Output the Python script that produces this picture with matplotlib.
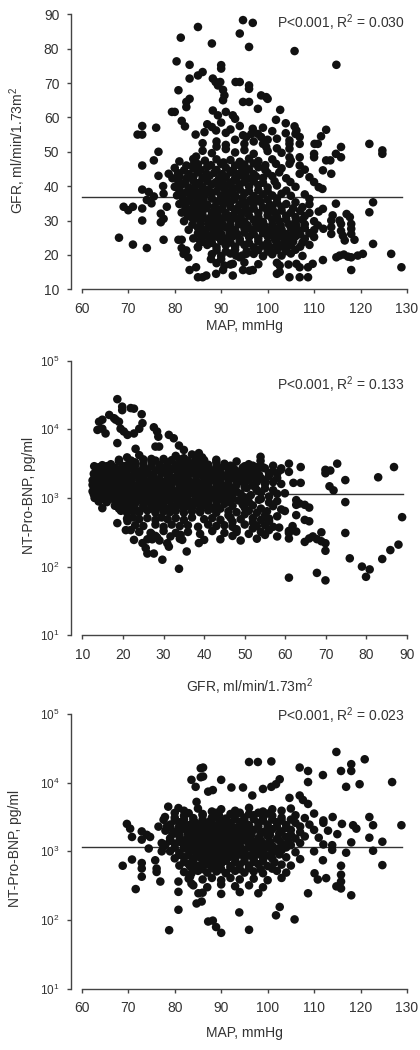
import matplotlib
matplotlib.use('Agg')
import matplotlib.pyplot as plt
from matplotlib.ticker import NullLocator

plt.rcParams['font.family'] = ['Liberation Sans', 'DejaVu Sans']
plt.rcParams['mathtext.fontset'] = 'custom'
plt.rcParams['mathtext.rm'] = 'Liberation Sans'
plt.rcParams['mathtext.it'] = 'Liberation Sans:italic'
plt.rcParams['mathtext.bf'] = 'Liberation Sans:bold'

TXT = '#333333'
DOT = '#111111'

# ---------- panel 1 : MAP (mmHg) vs GFR ----------
map_gfr_outer = [
    (68,25),(69,34),(70,33),(71,34),(71,23),(72,55),(73,55),(73,57.5),(73,46),(73,39),(73,33.5),(73,30),
    (74,22),(74.4,38.3),(74,36),(75,35),(75.5,37),(76,57),(75.5,47.5),(76.5,50),(76.5,43),(77,32),(77,29.5),
    (77.6,30.5),(77.5,40),(77.6,24.4),(77.6,37.8),(78.3,34),(78.7,43.6),(79.4,61.6),(80,61.6),(80.4,76.3),
    (80.8,67.9),(80.8,24.4),(81.5,24.4),(81.3,83.2),(81.5,59),(81.5,22),(81.9,20.3),(82.2,57.4),(82.5,64.5),
    (82.5,63),(83.2,65.4),(83.2,75.3),(83.2,71.3),(82.5,21.3),(82.9,19.3),(83.2,15.6),(83.6,31),(83.9,46),
    (84.5,55),(85,86.3),(85,72.2),(86,73.2),(85,13.5),(86,13.5),(84.6,16.4),(85,22.2),(85.4,24.2),(84.6,48.6),
    (94.7,88.3),(96.8,87.5),(94,84.4),(88,81.5),(96,80.5),(105.8,79.3),(114.8,75.3),(90,75.2),(90,74.2),
    (88.2,71.3),(88.8,70.3),(89.3,69.3),(89.8,70.3),(93.1,70.3),(94,70.3),(96,69.3),(96,68.3),(90.4,68),
    (90.7,66.4),(98.6,66.4),(99.7,65.9),(100,65.4),(94.7,64.5),(96,64.5),(90.4,65),(97.9,62.5),(102.7,62.2),
    (88.2,62),(89.3,60.6),(91,61.6),(92.5,60.6),(93,59.6),(101.8,59.3),(88,57.2),(88.9,56.2),(86.4,55.7),
    (103.9,58.3),(105.8,57.4),(106.2,56.2),(106,55.2),(112.6,56.4),(111.5,54.5),(110.8,52.3),(110.1,52.3),
    (96.8,56.7),(96.5,55.2),(95.4,54.3),(94.7,54.8),(97.9,55.2),(98.6,54.3),(99,52.3),(99.7,51.4),(103.9,55.4),
    (102,53.8),(104.7,53.3),(104.7,52.3),(104.7,50.9),(106.9,54.3),(106.9,52.3),(115.8,51.4),(114.7,49.4),
    (115.8,48.4),(121.9,52.3),(124.7,50.4),(124.7,49.4),(110,49.4),(110,48.4),(112.6,47.5),(113.5,47.5),
    (111.9,44.6),(113.7,43.6),(106.9,48.4),(106.9,46),(106.9,43.6),(104.7,48.4),(104.7,46.5),(101.8,46.5),
    (104.9,41.2),(109,42.6),(110,41.2),(111,39.7),(111.8,39.2),(122.7,35.3),(121.9,32.4),(122.7,23.2),
    (126.6,20.3),(128.8,16.4),(120.5,20.3),(119.4,19.8),(118,19.3),(117.3,19.5),(114.8,19.3),(115.5,19.8),
    (116.4,20.1),(118,15.6),(116.6,24.2),(118.7,24.4),(117,31.9),(117.7,31),(118,29),(118,27.6),(118,26.1),
    (115.5,30),(115.8,29),(115.8,27),(116.2,25.6),(114.7,34.9),(114,31.5),(113.7,30),(113.7,28.1),(113.7,26.1),
    (111.9,33.4),(109,36.3),(104.7,13.5),(106.9,13.5),(108.7,13.5),(102.6,16.9),(102.6,15),(102,14.5),
    (106.2,17.4),(106.9,16.4),(109.7,17.4),(108.7,16.4),(111.9,18.5),(86.8,14),(88.9,14.5),(90.4,15.6),
    (92.5,14),(94.7,15.6),(96.1,15.4),(96.8,15.6),(87.8,18.8),(90,18.8),(90.7,16.9),(92.5,17.4),(93.2,19.8),
    (94,19.3),(95.4,20.3),
    (86,52.5),(89,53),(91,52),(93,53.5),(95,52.3),(97,53),(100,53.5),(87,58),(90,58.5),(92,56.5),(94,57.5),
    (99,57),(101,56),(102,51),(91,55.5),(89,51.5),
]
map_gfr_core = [
    (86,50.3),(88,49.6),(91,50.8),(93,49.8),(95,50.5),(97,49.4),(100,50.2),(103,49.7),
    (81,47.2),(84,47.9),(86.5,47.4),(89,47.8),(90.5,46.9),(92,47.6),(94,47.1),(96,48),(98,47.3),(101,47.8),(105,47.4),
    (82.5,46),(85,46.4),(87.8,46.1),(90,46.5),(93,46),(95,46.3),(97,46.6),(99.5,46.1),
    (80,45.3),(82,44.6),(84,45.2),(85.5,44.8),(87,45.6),(89,44.7),(91,45.4),(92.5,44.6),(94.5,45.3),(96,44.9),
    (98,45.5),(99.5,44.7),(103,45.2),(108,44.8),
    (80.7,43.8),(83,43.5),(85,44),(86.8,43.6),(88.5,43.9),(90.2,43.5),(92,44),(93.8,43.6),(95.2,43.9),(97,43.5),
    (100,43.8),(102.5,44),
    (79.5,42.3),(81,42.9),(82.5,42.2),(84,42.8),(86,42.4),(87.5,43),(89.5,42.1),(91,42.7),(93,42.3),(94.5,43.1),
    (96,42.2),(97.5,42.8),(99,42.4),(101,42.9),(104,42.3),
    (80.8,41.3),(82.2,41),(84,41.5),(85.3,41),(87,41.4),(88.8,41.1),(90.3,41.5),(92,41.1),(93.3,41.6),(95,41.2),
    (97,41.4),(99,41),(101.5,41.4),
    (80,39.8),(81.5,40.4),(83,39.6),(84.5,40.3),(86,39.7),(88,40.5),(89.5,39.8),(91,40.2),(92.5,39.5),(94,40.4),
    (96,39.9),(98,40.3),(100,39.6),(102,40.2),(106,39.8),
    (81,38.8),(82.8,38.5),(84.2,39),(85.8,38.6),(87.3,39),(89,38.5),(90.8,38.9),(92.3,38.6),(94,39),(96,38.5),
    (98,38.8),(100,38.5),(104,38.7),
    (80.5,37.3),(82,37.9),(83.5,37.2),(85,37.8),(86.5,37.4),(88,38),(90,37.2),(91.5,37.7),(93,37.3),(95,37.9),
    (97,37.1),(99,37.6),(101,37.3),(103,37.8),(105,37.2),(108,37.6),
    (81.8,36.3),(83.2,36),(84.8,36.5),(86.2,36.1),(88,36.4),(89.8,36),(91,36.4),(92.8,36.1),(94.5,36.5),(96.3,36),
    (98,36.3),(100,36.1),(102,36.4),
    (81,34.8),(82.5,35.4),(84,34.7),(85.5,35.2),(87,34.6),(89,35.3),(90.5,34.8),(92,35.5),(94,34.7),(95.5,35.2),
    (97,34.9),(98.5,35.4),(100.5,34.6),(102,35.2),(104,34.8),(106,35.3),(109,34.7),
    (82.3,33.8),(83.8,33.5),(85.2,34),(86.8,33.6),(88.5,33.9),(90.2,33.5),(92,34),(93.5,33.6),(95.2,34),(97,33.5),
    (99,33.8),(101,33.6),(103,34),(105.5,33.6),(107.5,33.9),
    (81.5,32.3),(83,32.9),(84.5,32.2),(86,32.8),(88,32.4),(89.5,33),(91,32.2),(93,32.7),(94.5,32.3),(96,32.9),
    (98,32.2),(100,32.8),(101.5,32.4),(103,32.9),(105,32.3),(107,32.8),(109,32.2),(111,32.6),
    (82.8,31.3),(84.5,31),(86,31.5),(87.8,31.1),(89.3,31.4),(91,31),(92.5,31.5),(94.2,31.1),(96,31.4),(98,31),
    (100,31.5),(102,31.1),(104,31.4),(106,31),(108,31.3),
    (82,29.8),(84,30.4),(85.5,29.7),(87,30.3),(88.5,29.6),(90,30.2),(92,29.8),(93.5,30.4),(95,29.7),(97,30.2),
    (99,29.6),(101,30.3),(102.5,29.8),(104,30.4),(106,29.7),(107.5,30.2),(110,29.8),
    (83.8,28.8),(85.5,28.5),(87.2,29),(88.8,28.6),(90.3,29),(92,28.5),(93.8,28.9),(95.7,28.6),(97.5,29),(99.3,28.5),
    (101,28.8),(102.8,28.6),(104.5,29),(106.2,28.5),(108,28.9),(110.8,28.6),
    (83,27.3),(85,27.9),(86.5,27.2),(88,27.8),(89.5,27.4),(91,28),(93,27.2),(95,27.7),(96.5,27.3),(98,27.9),
    (100,27.2),(101.5,27.8),(103,27.4),(105,27.9),(106.5,27.3),(108,27.8),(110,27.2),(112,27.6),
    (85,26.3),(86.8,26),(88.3,26.5),(90,26.1),(91.8,26.4),(93.5,26),(95,26.5),(97,26.1),(99,26.4),(100.8,26),
    (102.3,26.5),(104,26.1),(105.5,26.4),(107,26),(109,26.3),
    (84,24.8),(86,25.4),(87.5,24.7),(89,25.3),(91,24.8),(92.5,25.4),(94,24.6),(96,25.2),(98,24.8),(100,25.4),
    (101.5,24.7),(103,25.3),(104.5,24.8),(106,25.4),(108,24.7),(110,25.2),
    (86,23.8),(88,23.5),(90,24),(92,23.6),(94,23.9),(96,23.5),(98,23.9),(100,23.6),(101.8,24),(103.5,23.5),
    (105.5,23.9),(107.5,23.6),
    (85,22.3),(87,22.9),(89,22.2),(91,22.8),(93,22.4),(95,22.9),(97,22.2),(99,22.7),(100.5,22.3),(102,22.9),
    (103.5,22.2),(105,22.8),(107,22.4),(109,22.9),
    (89,21.3),(91,21),(93,21.5),(95.5,21.1),(98,21.4),(100,21),(102,21.4),(104,21.1),(106,21.5),
    (88,20.2),(90,19.7),(92,20.4),(94.5,19.8),(97,20.3),(99,19.6),(101,20.2),(103,19.8),(105,20.4),(107.5,19.7),
    (89,17.6),(92,17.2),(95,17.8),(98,17.3),(102,17.7),(104.5,17.2),
]
gfr_mean = 36.9

# ---------- panel 2 : GFR vs NT-Pro-BNP ----------
gfr_bnp_outer = [
    (18.6,27500),(19.8,21400),(19.8,19000),(21.9,20400),(22.7,20000),(16.6,16200),(17.8,14500),(14.1,12900),
    (14.9,13800),(13.7,9800),(14.9,10200),(15.7,8700),(24.6,16600),(24.8,12300),(24,10200),(22.7,8700),
    (19.4,10200),(20.2,9300),(21.1,8300),(19,12900),(18.2,13800),(18.6,6300),(27.6,10700),(28.4,9300),
    (28.7,7800),(31.3,8300),(32.5,7400),(28,5600),(28.9,5600),(23.1,5200),(33.8,5800),(35,5000),(38.7,4500),
    (12.9,2900),(12.5,1800),(13.7,2300),(14.9,3000),(14.9,710),(18.6,430),(21.1,460),(20.7,340),(21.9,340),
    (22.7,245),(24.8,220),(25.6,186),(26,155),(27.6,155),(29.7,126),(34.2,290),(34.6,245),(35.7,166),
    (38.7,220),(33.8,93),(26.8,310),(28,280),(27.2,250),(28.4,265),(30.9,219),(31.3,195),(31.7,275),
    (53.9,3980),(53.9,3470),(60.9,3160),(60.9,2400),(63.8,2820),(72.8,3160),(86.8,2820),(82.9,2000),
    (74.8,1820),(69.9,2290),(71.1,2510),(69.9,2570),(58.9,2570),(62,1660),(63.8,1660),(59.9,1170),
    (70.9,1480),(71.9,1290),(74.8,870),(88.8,525),(62.7,930),(62.7,794),(63.5,830),(64.8,794),(65.9,724),
    (59.9,646),(62.7,562),(64.8,479),(65.9,457),(60.9,331),(61.8,389),(60.9,309),(60.9,257),(62.7,324),
    (74.8,309),(64.8,229),(65.9,257),(66.8,275),(67.8,251),(68.9,316),(69.9,219),(69.9,170),(68.9,234),
    (75.9,132),(78.9,100),(80.8,91),(79.9,71),(83.9,129),(85.9,174),(87.9,209),(60.9,69),(67.8,81),(69.9,63),
]
gfr_bnp_core = [
    (21,3900),(24,4200),(27,3700),(33,4100),(35,3800),(37,4300),(39.5,3900),
    (19,3600),(22,3500),(25,3650),(28,3500),(30,3700),(32,3550),(34,3650),(36,3500),(38,3700),(40,3550),(43,3600),
    (17,3100),(19,3400),(21,3000),(23,3300),(25,3150),(27,3450),(29,3050),(31,3300),(33,3000),(35,3350),
    (37,3100),(39,3400),(41,3050),(43,3300),(45,3150),(48,3400),(51,3100),
    (14,2800),(16,2900),(18,2750),(20,2900),(21.8,2800),(23,2950),(25,2750),(27,2900),(29,2800),(30.8,2950),
    (32.5,2750),(34,2900),(36,2800),(38,2950),(39.5,2800),(41,2900),(43,2750),(45,2900),(47,2800),(50,2900),(53,2800),
    (46.5,2950),(49.5,2750),(52,2950),(54.5,2800),(57,2950),(59,2700),
    (13.5,2450),(15,2650),(17,2400),(19,2600),(20.5,2450),(22,2700),(24,2400),(26,2600),(28,2500),(30,2700),
    (31.5,2400),(33,2600),(35,2450),(37,2650),(38.5,2400),(40,2600),(42,2500),(44,2700),(46,2400),(47.5,2600),
    (49,2450),(51,2650),(53,2500),(55,2700),(57,2450),
    (12.8,2250),(14.3,2200),(16,2300),(17.8,2200),(19.3,2300),(21,2200),(22.8,2300),(24.5,2200),(26,2300),
    (27.5,2200),(29.5,2300),(31,2200),(33.5,2300),(35,2200),(36.8,2300),(39,2200),(40.8,2300),(42.5,2200),
    (44,2300),(46,2200),(48,2300),(50,2200),(52,2300),
    (47,2250),(51,2350),(53.5,2200),(56,2300),(58,2250),
    (13,2000),(15,1900),(16.5,2100),(18,1950),(20,2050),(22,1900),(23.5,2100),(25,1950),(27,2050),(29,1900),
    (31,2100),(32.5,1950),(34,2050),(36,1900),(38,2100),(40,1950),(41.5,2050),(43,1900),(45,2100),(47,1950),
    (49,2050),(50.5,1900),(52,2050),(54,1950),(56,2100),(58,1950),
    (13.8,1780),(15.3,1750),(17,1820),(18.8,1750),(20.5,1820),(22,1750),(24,1820),(25.8,1750),(27.5,1820),
    (29,1750),(30.8,1820),(32.8,1750),(34.5,1820),(36.2,1750),(38,1820),(40,1750),(42,1820),(44,1750),(46,1820),(48,1750),
    (49,1780),(51,1850),(53,1720),(55,1800),(57,1700),(59,1600),
    (12.5,1550),(14,1650),(16,1500),(18,1620),(19.5,1540),(21,1660),(23,1520),(25,1620),(26.5,1550),(28,1650),
    (30,1520),(32,1600),(34,1550),(35.5,1670),(37,1520),(39,1620),(41,1540),(43,1650),(44.5,1520),(46,1600),
    (48,1550),(50,1660),(52,1530),(55,1600),
    (13.5,1420),(15.2,1380),(17,1450),(18.3,1390),(20,1440),(22,1380),(23.5,1440),(25,1390),(27,1450),(29,1380),
    (30.5,1440),(32,1390),(34,1450),(36,1380),(38,1440),(39.5,1390),(41,1450),(43,1380),(45,1440),(47,1390),(50,1430),
    (50.5,1400),(52.5,1450),(55,1380),(57,1300),
    (12.5,1250),(14.5,1300),(16,1200),(17.5,1300),(19,1220),(21,1320),(22.5,1200),(24,1290),(26,1230),(28,1320),
    (29.5,1210),(31,1290),(33,1240),(35,1310),(37,1200),(38.5,1290),(40,1230),(42,1320),(44,1210),(46,1280),
    (48,1240),(53,1300),
    (12.8,1130),(14,1100),(15.8,1150),(17.5,1100),(19.5,1140),(21,1090),(23,1150),(24.8,1100),(26.5,1140),
    (28,1090),(30,1150),(32,1100),(34,1140),(35.8,1090),(37.5,1150),(39,1100),(41,1140),(43,1090),(45,1140),(47,1100),
    (49,1150),(51.5,1100),(54,1200),(56,1050),(58,1150),
    (13,1000),(15,960),(17,1040),(18.5,970),(20,1030),(22,960),(24,1040),(25.5,980),(27,1030),(29,960),
    (31,1040),(33,980),(34.5,1030),(36,960),(38,1040),(40,970),(42,1030),(44,960),(45.5,1040),(47,980),
    (50,1020),(54,970),
    (14,890),(16,870),(18,910),(19.5,870),(21,900),(23,870),(24.5,910),(26.5,870),(28,900),(29.8,870),
    (31.5,910),(33.5,870),(35,900),(37,870),(39,910),(41,870),(43,900),(46,880),
    (48.5,920),(51,880),(53.5,940),(56,860),(58,900),
    (18,770),(20,810),(21.5,780),(23,830),(25,770),(27,810),(28.5,780),(30,820),(32,770),(34,810),(36,780),
    (38,830),(39.5,770),(41,810),(43,780),(45,820),(47,770),(49.5,800),(52,780),
    (19,700),(21,720),(23,690),(25,720),(27,700),(29,730),(31,690),(33,720),(35,700),(37,720),(39,690),(42,710),(44,700),
    (50,720),(54,700),(57,760),(59,680),
    (19.5,650),(21,610),(22.5,650),(24,620),(26,660),(28,610),(30,640),(31.5,620),(33,650),(35,610),(37,640),
    (39,620),(41,660),(43,610),(46,640),(48,620),(51,650),(53,610),(55.5,640),
    (46,560),(50,580),(55,560),(58,540),
    (21,500),(22.5,520),(24,490),(26,510),(28,480),(29.5,520),(31,490),(33,510),(35,480),(37,520),(40,490),
    (42,510),(44,480),(46.5,515),(49,490),(52,510),(54,480),(56,500),
    (47,450),(52,440),(56,460),
    (23,400),(25,390),(28,410),(30,380),(32,410),(34,390),(36,400),(38.5,380),(41,410),(43,390),(45,400),
    (47,380),(50,410),(53,390),(55,400),(57,380),
    (48,350),(52,360),(56,340),(58.5,370),
    (24,320),(27,300),(30,330),(33,310),(36,320),(39,300),(42,330),(45,310),(48,320),(51,300),(54,320),
    (47,280),(55,290),(58,275),
    (26,250),(29,240),(34,255),(40,245),(44,250),(49,240),(53,255),
]
bnp_mean_gfr = 1150

# ---------- panel 3 : MAP vs NT-Pro-BNP ----------
map_bnp_outer = [
    (68.8,617),(69.7,2510),(70.4,2140),(70.8,1620),(70.8,760),(71.6,282),(72.9,1950),(72.9,1480),(72.9,676),
    (72.9,562),(72.9,427),(74,1740),(74.7,1620),(74.4,1100),(75.8,741),(76.1,562),(76.1,501),(76.9,363),
    (77.2,1320),(77.6,1170),(77.2,1000),(77.6,2880),(77.9,3160),(78.3,2290),(76.5,2290),(78.6,4470),(78.8,71),
    (80,3630),(80.8,4270),(80.8,363),(80.8,257),(80.8,141),(83.3,603),(83.6,479),(83.3,427),(83.6,339),
    (83.6,11000),(84.5,8700),(85.6,16200),(85.6,12000),(84.7,5250),(85.1,245),(85.8,186),(84.7,174),
    (87.2,7400),(87.2,95),
    (114.8,28000),(96,20000),(97.9,20000),(100.8,20400),(86.1,16600),(86.1,12300),(120.9,21900),(118,18600),
    (118,14800),(115.8,14800),(111.9,12900),(106.9,16600),(108.7,14800),(108.7,10200),(126.8,10200),
    (119.8,9500),(116.9,8700),(90,11000),(88.2,7800),(92.2,8500),(94.7,8500),(99,8100),(100.8,8700),
    (101.8,9500),(102.6,11200),(96.7,6500),(106.9,6500),(107.6,5600),(108.7,4900),(104.7,6000),(128.8,2400),
    (121.9,3160),(122.7,2400),(118.4,2400),(119.1,2140),(118,1350),(121.9,1580),(124.7,1380),(122.7,1020),
    (124.7,630),(116.9,955),(115.8,617),(115.8,457),(115.8,363),(114.8,309),(115.8,288),(118,229),
    (112.6,407),(113.9,1230),(113.9,1050),(111.9,741),(110.1,479),(110.8,389),(108.7,245),(105.8,102),
    (101.8,117),(102.6,155),(96,72),(93.9,129),(88.2,98),(88.9,79),(90,65),
    (110,3550),(112,2820),(113,2000),(111,1580),(114,3160),(116,2510),(112,1260),(110,1000),(115,1780),
]
map_bnp_core = [
    (82,3900),(85,4200),(88,3800),(90,4100),(93,3900),(96,4300),(99,3800),(101,4100),(103,3900),(105,4200),
    (83,3600),(86,3500),(89,3650),(92,3500),(94,3650),(96,3500),(98,3650),(100,3550),
    (80,3100),(82,3300),(84,3050),(86,3350),(88,3100),(89.5,3400),(91,3000),(93,3300),(95,3100),(97,3350),
    (99,3050),(101,3300),(103,3100),(106,3350),(108,3050),
    (80,2800),(82,2900),(84,2750),(86,2900),(87.8,2800),(89.5,2950),(91,2750),(92.8,2900),(95,2800),(97,2950),
    (99,2800),(101,2900),(103,2800),(105,2900),
    (79,2450),(81,2650),(83,2400),(84.5,2600),(86,2450),(87.5,2700),(89,2400),(90.5,2600),(92,2500),(94,2700),
    (96,2400),(98,2600),(100,2450),(102,2650),(104,2400),(106,2600),(109,2450),(112,2600),
    (79,2250),(80.8,2200),(82.3,2300),(84,2200),(85.5,2300),(87,2200),(88.3,2300),(90,2200),(91.5,2300),
    (93,2200),(94.5,2300),(96,2200),(98,2300),(100,2200),(102,2300),(104,2200),(107,2300),
    (78,2000),(80,1900),(81.5,2100),(83,1950),(84.5,2050),(86,1900),(87.5,2100),(89,1950),(90.5,2050),(92,1900),
    (93.5,2100),(95,1950),(97,2050),(99,1900),(101,2100),(103,1950),(105,2050),(107,1900),(110,2050),
    (79.5,1780),(81,1750),(82.8,1820),(84.3,1750),(85.8,1820),(87.3,1750),(88.8,1820),(90.3,1750),(91.8,1820),
    (93.3,1750),(94.8,1820),(96.5,1750),(98.5,1820),(100.5,1750),(102.5,1820),(105,1750),
    (79,1550),(81,1650),(82.5,1500),(84,1620),(85.5,1540),(87,1660),(88.5,1520),(90,1620),(91.5,1550),(93,1650),
    (94.5,1520),(96,1600),(98,1550),(100,1670),(102,1520),(104,1620),(106,1540),(108,1650),
    (79,1420),(81,1380),(82.7,1450),(84.3,1390),(85.8,1440),(87.3,1380),(88.8,1440),(90.3,1390),(91.8,1450),
    (93.3,1380),(95,1440),(96.8,1390),(98.5,1450),(100.5,1380),(102.5,1440),(104.5,1390),
    (78,1250),(80,1300),(82,1200),(83.5,1300),(85,1220),(86.5,1320),(88,1200),(89.5,1290),(91,1230),(92.5,1320),
    (94,1210),(96,1290),(97.5,1240),(99,1310),(101,1200),(103,1290),(105,1230),(107,1320),
    (80,1130),(82,1100),(83.8,1150),(85.3,1100),(86.8,1140),(88.3,1090),(89.8,1150),(91.3,1100),(92.8,1140),
    (94.5,1090),(96,1150),(98,1100),(100,1140),(102,1090),(104,1140),
    (79,1000),(81,960),(83,1040),(84.5,970),(86,1030),(87.5,960),(89,1040),(90.5,980),(92,1030),(93.5,960),
    (95,1040),(97,980),(99,1030),(101,960),(103,1040),(106,970),
    (81,890),(83,870),(85,910),(86.5,870),(88,900),(89.5,870),(91,910),(92.5,870),(94,900),(96,870),(98,910),
    (100,870),(102.5,900),
    (80,790),(82,820),(84,770),(85.5,810),(87,780),(88.5,830),(90,770),(91.5,810),(93,780),(95,820),(97,770),
    (99,810),(101,780),(104,820),(107,770),
    (82,700),(84,720),(86,690),(88,720),(89.5,700),(91,730),(93,690),(95,720),(97,700),(99,720),(101.5,690),
    (81,620),(83,650),(85,610),(87,650),(88.5,620),(90,660),(92,610),(94,640),(96,620),(98,650),(100,610),
    (103,640),(105,620),
    (84,560),(86,550),(88,570),(90,550),(92,570),(94,550),(96,570),(98.5,550),(101,560),
    (82,500),(85,520),(87,490),(89,510),(91,480),(93,520),(95,490),(97,510),(99,480),(102,520),(104,490),
    (83,400),(86,390),(88,410),(90,380),(92,410),(94,390),(97,400),(100,380),(103,410),
    (84,320),(87,300),(90,330),(93,310),(96,320),(99,300),
    (86,250),(90,240),(94,255),(98,245),
]
bnp_mean_map = 1166

stats = ['P<0.001, R$^2$ = 0.030', 'P<0.001, R$^2$ = 0.133', 'P<0.001, R$^2$ = 0.023']

fig = plt.figure(figsize=(4.2, 10.5), dpi=100)
ax1 = fig.add_axes([0.1683, 0.7245, 0.8007, 0.2619])
ax2 = fig.add_axes([0.1683, 0.3950, 0.8007, 0.2615])
ax3 = fig.add_axes([0.1683, 0.0584, 0.8007, 0.2616])


def style(ax, xlo, xhi, ticks):
    ax.spines['top'].set_visible(False)
    ax.spines['right'].set_visible(False)
    for s in ['left', 'bottom']:
        ax.spines[s].set_color('#444444')
        ax.spines[s].set_linewidth(1.0)
    ax.spines['bottom'].set_bounds(xlo, xhi)
    ax.set_xticks(ticks)
    ax.tick_params(direction='out', length=3.2, width=1.0, color='#444444', labelcolor=TXT, labelsize=10)
    ax.tick_params(axis='x', pad=6)
    ax.tick_params(axis='y', pad=5)


def scatter(ax, pts):
    xs = [p[0] for p in pts]
    ys = [p[1] for p in pts]
    ax.scatter(xs, ys, s=38, color=DOT, edgecolors='none', clip_on=False, zorder=3)


# panel 1
scatter(ax1, map_gfr_outer)
scatter(ax1, map_gfr_core)
ax1.plot([60, 129], [gfr_mean, gfr_mean], color='#333333', lw=1.0, zorder=2)
ax1.set_xlim(57.6, 130)
ax1.set_ylim(10, 90)
ax1.set_yticks(range(10, 91, 10))
style(ax1, 60, 130, range(60, 131, 10))
ax1.set_xlabel('MAP, mmHg', fontsize=10, color=TXT, va='center')
ax1.xaxis.set_label_coords(0.518, -0.133)
ax1.set_ylabel('GFR, ml/min/1.73m$^2$', fontsize=10, color=TXT, va='center')
ax1.yaxis.set_label_coords(-0.158, 0.505)
ax1.text(0.994, 0.971, stats[0], transform=ax1.transAxes, ha='right', va='center', fontsize=10, color=TXT)

# panel 2
scatter(ax2, gfr_bnp_outer)
scatter(ax2, gfr_bnp_core)
ax2.plot([12, 89], [bnp_mean_gfr, bnp_mean_gfr], color='#333333', lw=1.0, zorder=2)
ax2.set_yscale('log')
ax2.set_xlim(7.1, 90)
ax2.set_ylim(10, 1e5)
ax2.set_yticks([1e1, 1e2, 1e3, 1e4, 1e5])
ax2.yaxis.set_minor_locator(NullLocator())
style(ax2, 10, 90, range(10, 91, 10))
ax2.tick_params(axis='y', labelsize=8.5)
ax2.set_xlabel('GFR, ml/min/1.73m$^2$', fontsize=10, color=TXT, va='center')
ax2.xaxis.set_label_coords(0.533, -0.188)
ax2.set_ylabel('NT-Pro-BNP, pg/ml', fontsize=10, color=TXT, va='center')
ax2.yaxis.set_label_coords(-0.124, 0.511)
ax2.text(0.994, 0.911, stats[1], transform=ax2.transAxes, ha='right', va='center', fontsize=10, color=TXT)

# panel 3
scatter(ax3, map_bnp_outer)
scatter(ax3, map_bnp_core)
ax3.plot([60, 129], [bnp_mean_map, bnp_mean_map], color='#333333', lw=1.0, zorder=2)
ax3.set_yscale('log')
ax3.set_xlim(57.6, 130)
ax3.set_ylim(10, 1e5)
ax3.set_yticks([1e1, 1e2, 1e3, 1e4, 1e5])
ax3.yaxis.set_minor_locator(NullLocator())
style(ax3, 60, 130, range(60, 131, 10))
ax3.tick_params(axis='y', labelsize=8.5)
ax3.set_xlabel('MAP, mmHg', fontsize=10, color=TXT, va='center')
ax3.xaxis.set_label_coords(0.518, -0.161)
ax3.set_ylabel('NT-Pro-BNP, pg/ml', fontsize=10, color=TXT, va='center')
ax3.yaxis.set_label_coords(-0.166, 0.512)
ax3.text(0.994, 0.993, stats[2], transform=ax3.transAxes, ha='right', va='center', fontsize=10, color=TXT)

fig.savefig('out.png', dpi=100)
